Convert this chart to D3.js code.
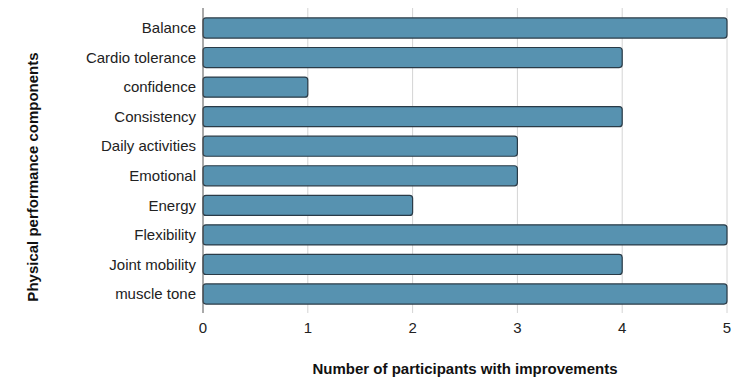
<!DOCTYPE html>
<html>
<head>
<meta charset="utf-8">
<script src="https://cdn.jsdelivr.net/npm/d3@7"></script>
<style>
  body { margin: 0; background: #fff; }
  text { font-family: "Liberation Sans", Arial, sans-serif; }
</style>
</head>
<body>
<svg id="drawing_region"></svg>
<script>
const categories = ["Balance", "Cardio tolerance", "confidence", "Consistency", "Daily activities",
    "Emotional", "Energy", "Flexibility", "Joint mobility", "muscle tone"];
const values = [5, 4, 1, 4, 3, 3, 2, 5, 4, 5];
const xTicks = [0, 1, 2, 3, 4, 5];

const data = categories.map((c, i) => ({ label: c, value: values[i] }));

const width = 750, height = 386;
const plotLeft = 203, plotRight = 727, plotTop = 8, plotBottom = 313;

const svg = d3.select('#drawing_region')
    .attr('width', width)
    .attr('height', height);

const xscale = d3.scaleLinear()
    .domain([0, 5])
    .range([plotLeft, plotRight]);

const yscale = d3.scaleBand()
    .domain(categories)
    .range([13.2, 308.8])
    .paddingInner(0.32)
    .paddingOuter(0.16);

// grid lines
svg.append('g').selectAll('line').data(xTicks.slice(1)).enter()
    .append('line')
    .attr('x1', d => xscale(d)).attr('x2', d => xscale(d))
    .attr('y1', plotTop).attr('y2', plotBottom)
    .attr('stroke', '#d4d4d4')
    .attr('stroke-width', 1);

// bars
svg.append('g').selectAll('rect').data(data).enter()
    .append('rect')
    .attr('x', xscale(0))
    .attr('y', d => yscale(d.label))
    .attr('width', d => xscale(d.value) - xscale(0))
    .attr('height', yscale.bandwidth())
    .attr('rx', 3)
    .attr('fill', '#5792b0')
    .attr('stroke', '#2a3b47')
    .attr('stroke-width', 1.2);

// y axis line
svg.append('line')
    .attr('x1', plotLeft).attr('x2', plotLeft)
    .attr('y1', plotTop).attr('y2', plotBottom)
    .attr('stroke', '#555')
    .attr('stroke-width', 1);

// y tick labels
svg.append('g').selectAll('text').data(categories).enter()
    .append('text')
    .attr('x', plotLeft - 7)
    .attr('y', d => yscale(d) + yscale.bandwidth() / 2)
    .attr('dy', '0.35em')
    .attr('text-anchor', 'end')
    .attr('font-size', '15px')
    .attr('fill', '#222')
    .text(d => d);

// x tick labels
svg.append('g').selectAll('text').data(xTicks).enter()
    .append('text')
    .attr('x', d => xscale(d))
    .attr('y', 333)
    .attr('text-anchor', 'middle')
    .attr('font-size', '15px')
    .attr('fill', '#222')
    .text(d => d);

svg.append('text')
    .attr('x', (plotLeft + plotRight) / 2)
    .attr('y', 374)
    .attr('text-anchor', 'middle')
    .attr('font-size', '15px')
    .attr('font-weight', 'bold')
    .attr('fill', '#111')
    .text('Number of participants with improvements');

svg.append('text')
    .attr('transform', 'translate(38, 177) rotate(-90)')
    .attr('text-anchor', 'middle')
    .attr('font-size', '15px')
    .attr('font-weight', 'bold')
    .attr('fill', '#111')
    .text('Physical performance components');
</script>
</body>
</html>
